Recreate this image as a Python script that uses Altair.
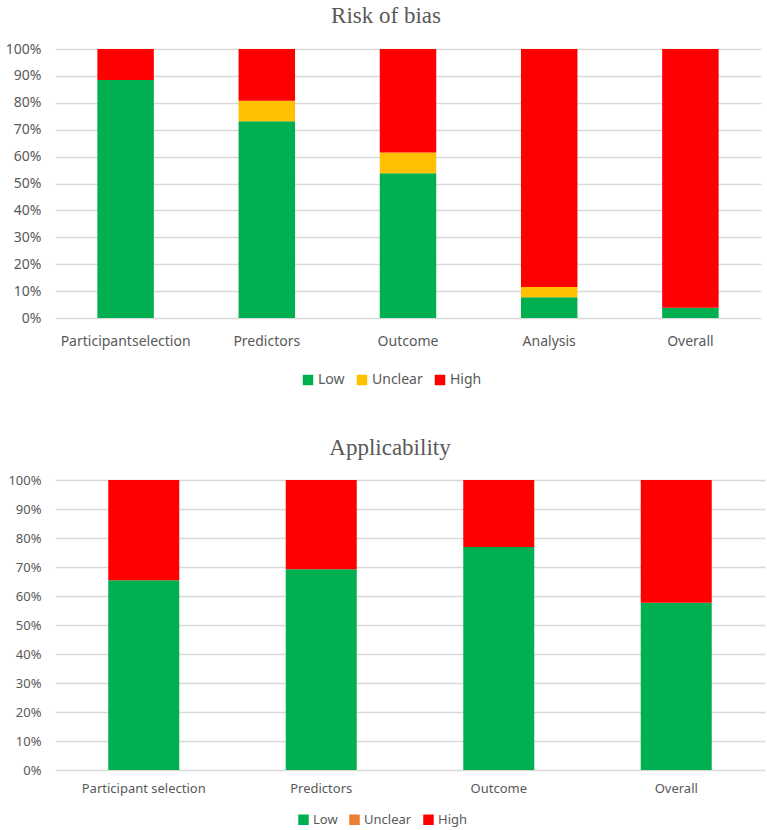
import altair as alt
import pandas as pd

rob_domains = ["Participantselection", "Predictors", "Outcome", "Analysis", "Overall"]
rob_low = [88.5, 73.1, 53.8, 7.7, 3.8]
rob_unclear = [0.0, 7.7, 7.7, 3.8, 0.0]
rob_high = [11.5, 19.2, 38.5, 88.5, 96.2]

app_domains = ["Participant selection", "Predictors", "Outcome", "Overall"]
app_low = [65.4, 69.2, 76.9, 57.7]
app_unclear = [0.0, 0.0, 0.0, 0.0]
app_high = [34.6, 30.8, 23.1, 42.3]

levels = ["Low", "Unclear", "High"]
rob_colors = ["#00B050", "#FFC000", "#FF0000"]
app_colors = ["#00B050", "#ED7D31", "#FF0000"]
y_ticks = [0, 0.1, 0.2, 0.3, 0.4, 0.5, 0.6, 0.7, 0.8, 0.9, 1.0]


def make_df(domains, low, unclear, high):
    rows = []
    for i, d in enumerate(domains):
        for k, (lvl, vals) in enumerate(zip(levels, [low, unclear, high])):
            rows.append({"domain": d, "level": lvl, "value": vals[i] / 100.0, "ord": k})
    return pd.DataFrame(rows)


LABEL_FONT = "Noto Sans"
GRAY = "#595959"


def make_chart(df, domains, colors, title, width, height, legend_x, legend_y, dx,
               label_size, x_pad):
    return alt.Chart(df).mark_bar().encode(
        x=alt.X("domain:N", sort=domains, title=None,
                scale=alt.Scale(paddingInner=0.6, paddingOuter=0.3),
                axis=alt.Axis(labelAngle=0, domain=False, ticks=False, labelPadding=x_pad,
                              labelFontSize=label_size, labelFont=LABEL_FONT, labelColor=GRAY)),
        y=alt.Y("value:Q", stack="zero", title=None,
                scale=alt.Scale(domain=[0, 1], nice=False),
                axis=alt.Axis(format=".0%", values=y_ticks, domain=False, ticks=False,
                              labelPadding=14, labelFontSize=label_size, labelFont=LABEL_FONT,
                              labelColor=GRAY, gridColor="#D9D9D9", gridWidth=1.3)),
        color=alt.Color("level:N", scale=alt.Scale(domain=levels, range=colors),
                        legend=alt.Legend(title=None, orient="none", direction="horizontal",
                                          legendX=legend_x, legendY=legend_y,
                                          symbolType="square", symbolSize=110,
                                          symbolStrokeWidth=0, symbolOpacity=1,
                                          labelFont=LABEL_FONT, labelFontSize=label_size,
                                          labelColor=GRAY, columnPadding=10, labelOffset=3)),
        order=alt.Order("ord:Q"),
    ).properties(
        width=width, height=height,
        title=alt.TitleParams(title, font="Liberation Serif", fontSize=23, color=GRAY,
                              fontWeight="normal", anchor="middle", dx=dx, offset=14),
    )


top = make_chart(make_df(rob_domains, rob_low, rob_unclear, rob_high), rob_domains,
                 rob_colors, "Risk of bias", 706, 269, 246, 324, -22, 14, 16)
bottom = make_chart(make_df(app_domains, app_low, app_unclear, app_high), app_domains,
                    app_colors, "Applicability", 710, 290, 242, 333, -20, 13, 12)

chart = alt.vconcat(top, bottom, spacing=50).resolve_scale(color="independent").properties(
    padding={"left": 5, "top": 5, "right": 1, "bottom": 2}
).configure(background="white").configure_view(stroke=None)

chart.save("out.html", embed_options={"renderer": "svg", "actions": False})
